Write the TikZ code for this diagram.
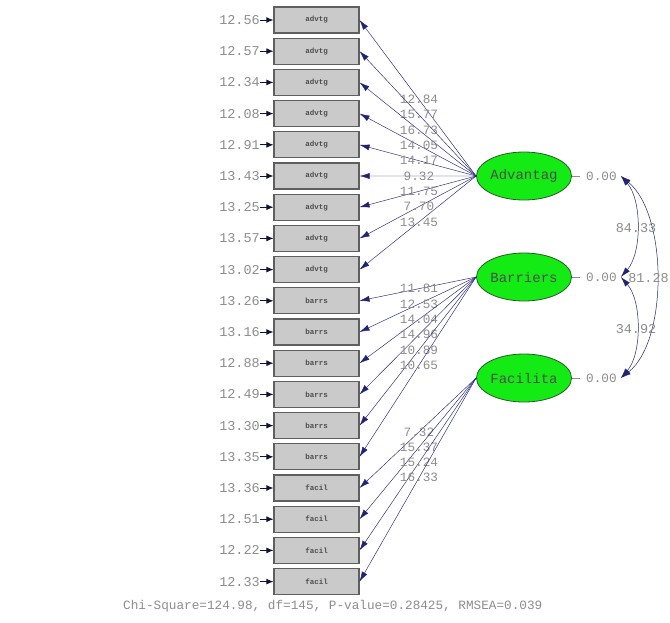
\documentclass[tikz,border=0pt]{standalone}
\usepackage{fontspec}
\newfontfamily\cour{Liberation Mono}
\usetikzlibrary{arrows.meta,shapes.geometric}

\definecolor{navy}{RGB}{35,35,115}
\definecolor{valgray}{RGB}{140,140,140}
\definecolor{boxfill}{RGB}{202,202,202}
\definecolor{boxline}{RGB}{95,95,95}
\definecolor{latgreen}{RGB}{20,235,20}
\definecolor{latline}{RGB}{40,90,40}

\tikzset{
  obsbox/.style={draw=boxline, fill=boxfill, line width=1.1pt,
    minimum width=85pt, minimum height=26pt, inner sep=0pt,
    font=\cour\bfseries\fontsize{7.5}{7.5}\selectfont, text=black!70},
  latent/.style={ellipse, draw=latline, fill=latgreen, line width=0.8pt,
    minimum width=85pt, minimum height=48pt, inner sep=0pt,
    font=\cour\fontsize{14}{14}\selectfont, text=black!70},
  loading/.style={draw=navy, line width=0.45pt,
    -{Latex[length=10pt,width=6pt]}},
  errarrow/.style={draw=navy!50!black, line width=1pt,
    -{Latex[length=7pt,width=6pt]}},
  covarc/.style={draw=navy, line width=0.5pt,
    {Latex[length=10pt,width=6pt]}-{Latex[length=10pt,width=6pt]}},
  val/.style={font=\cour\fontsize{12.7}{12.7}\selectfont, text=valgray, inner sep=0pt},
  errval/.style={font=\cour\fontsize{13.5}{13.5}\selectfont, text=valgray, inner sep=0pt},
  covval/.style={font=\cour\fontsize{13.5}{13.5}\selectfont, text=valgray, inner sep=0pt},
  varline/.style={draw=valgray, line width=0.5pt}
}

\begin{document}
\begin{tikzpicture}[x=1pt,y=-1pt]
\useasboundingbox (0,0) rectangle (670,622);

% observed indicators with their error variances
\foreach \i/\lab/\err in {
  1/advtg/12.56, 2/advtg/12.57, 3/advtg/12.34, 4/advtg/12.08, 5/advtg/12.91,
  6/advtg/13.43, 7/advtg/13.25, 8/advtg/13.57, 9/advtg/13.02,
  10/barrs/13.26, 11/barrs/13.16, 12/barrs/12.88, 13/barrs/12.49,
  14/barrs/13.30, 15/barrs/13.35,
  16/facil/13.36, 17/facil/12.51, 18/facil/12.22, 19/facil/12.33} {
  \node[obsbox] (x\i) at (316.5, {20+(\i-1)*31.2}) {\lab};
  \node[errval, anchor=east] (e\i) at (260, {20+(\i-1)*31.2}) {\err};
  \draw[errarrow] (e\i.east) -- (x\i.west);
}

% latent factors
\node[latent] (adv) at (524,176) {Advantag};
\node[latent] (bar) at (524,277) {Barriers};
\node[latent] (fac) at (524,378) {Facilita};

% factor variances
\node[val, anchor=west] (vadv) at (586,176) {0.00};
\node[val, anchor=west] (vbar) at (586,277) {0.00};
\node[val, anchor=west] (vfac) at (586,378) {0.00};
\draw[varline] (adv.east) -- ([xshift=-6pt]vadv.west);
\draw[varline] (bar.east) -- ([xshift=-6pt]vbar.west);
\draw[varline] (fac.east) -- ([xshift=-6pt]vfac.west);

% loadings
\foreach \i/\v in {1/12.84, 2/15.77, 3/16.73, 4/14.05, 5/14.17,
                   6/9.32, 7/11.75, 8/7.70, 9/13.45}
  \draw[loading] (adv.west) -- node[val, pos=0.49] {\v} (x\i.east);
\foreach \i/\v in {10/11.81, 11/12.53, 12/14.04, 13/14.96, 14/10.89, 15/10.65}
  \draw[loading] (bar.west) -- node[val, pos=0.49] {\v} (x\i.east);
\foreach \i/\v in {16/7.32, 17/15.37, 18/15.24, 19/16.33}
  \draw[loading] (fac.west) -- node[val, pos=0.49] {\v} (x\i.east);

% factor covariances
\coordinate (ca) at ([xshift=4pt]vadv.east);
\coordinate (cb) at ([xshift=4pt]vbar.east);
\coordinate (cf) at ([xshift=4pt]vfac.east);
\draw[covarc] (ca) .. controls (642,200) and (642,253) .. (cb);
\draw[covarc] (cb) .. controls (642,301) and (642,354) .. (cf);
\draw[covarc] (ca) .. controls (668,215) and (668,341) .. (cf);
\node[covval] (c1) at (636,228) {84.33};
\node[covval, anchor=east] (c2) at (669,278) {81.28};
\node[covval] (c3) at (636,329) {34.92};

% fit statistics
\node[val, anchor=west] (fit) at (123,606)
  {Chi-Square=124.98, df=145, P-value=0.28425, RMSEA=0.039};
\end{tikzpicture}
\end{document}
